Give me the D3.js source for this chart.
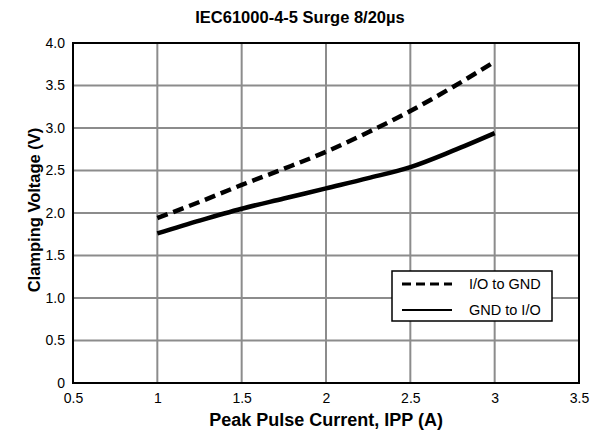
<!DOCTYPE html>
<html>
<head>
<meta charset="utf-8">
<script src="https://cdn.jsdelivr.net/npm/d3@7"></script>
<style>
  body { margin: 0; background: #fff; }
  svg { font-family: "Liberation Sans", Arial, sans-serif; }
  .tick text { font-size: 14px; fill: #000; }
</style>
</head>
<body>
<svg width="597" height="432"></svg>
<script>
// values
const current = [1, 1.25, 1.5, 1.75, 2, 2.25, 2.5, 2.75, 3];
const ioToGnd = [1.94, 2.13, 2.33, 2.52, 2.72, 2.95, 3.20, 3.48, 3.78];
const gndToIo = [1.76, 1.91, 2.05, 2.17, 2.29, 2.41, 2.54, 2.73, 2.94];
const xTicks = [0.5, 1, 1.5, 2, 2.5, 3, 3.5];
const yTicks = [0, 0.5, 1, 1.5, 2, 2.5, 3, 3.5, 4];
const seriesNames = ["I/O to GND", "GND to I/O"];

const svg = d3.select("svg");
const plotL = 73, plotR = 579, plotT = 43, plotB = 383;

const x = d3.scaleLinear().domain([0.5, 3.5]).range([plotL, plotR]);
const y = d3.scaleLinear().domain([0, 4]).range([plotB, plotT]);

// grid
svg.append("g").selectAll("line")
  .data(xTicks.slice(1, -1))
  .enter().append("line")
  .attr("x1", d => x(d)).attr("x2", d => x(d))
  .attr("y1", plotT).attr("y2", plotB)
  .attr("stroke", "#8c8c8c").attr("stroke-width", 2);

svg.append("g").selectAll("line")
  .data(yTicks.slice(1, -1))
  .enter().append("line")
  .attr("x1", plotL).attr("x2", plotR)
  .attr("y1", d => y(d)).attr("y2", d => y(d))
  .attr("stroke", "#8c8c8c").attr("stroke-width", 2);

// axes
svg.append("g")
  .attr("transform", `translate(0,${plotB})`)
  .call(d3.axisBottom(x).tickValues(xTicks).tickSize(0).tickPadding(10).tickFormat(d => d))
  .call(g => g.select(".domain").remove());

svg.append("g")
  .attr("transform", `translate(${plotL},0)`)
  .call(d3.axisLeft(y).tickValues(yTicks).tickSize(0).tickPadding(8)
    .tickFormat(d => d === 0 ? "0" : d3.format(".1f")(d)))
  .call(g => g.select(".domain").remove());

// frame
svg.append("rect")
  .attr("x", plotL).attr("y", plotT)
  .attr("width", plotR - plotL).attr("height", plotB - plotT)
  .attr("fill", "none").attr("stroke", "#000").attr("stroke-width", 2);

// lines
const line = d3.line()
  .x((d, i) => x(current[i]))
  .y(d => y(d))
  .curve(d3.curveMonotoneX);

svg.append("path")
  .datum(ioToGnd)
  .attr("d", line)
  .attr("fill", "none").attr("stroke", "#000")
  .attr("stroke-width", 4.5).attr("stroke-dasharray", "11,6");

svg.append("path")
  .datum(gndToIo)
  .attr("d", line)
  .attr("fill", "none").attr("stroke", "#000")
  .attr("stroke-width", 4.5);

// legend
const legend = svg.append("g");
legend.append("rect")
  .attr("x", 392).attr("y", 271).attr("width", 160).attr("height", 50)
  .attr("fill", "#fff").attr("stroke", "#000").attr("stroke-width", 1.5);

seriesNames.forEach((name, i) => {
  const ly = 284 + i * 26;
  legend.append("line")
    .attr("x1", 402).attr("x2", 452).attr("y1", ly).attr("y2", ly)
    .attr("stroke", "#000").attr("stroke-width", i === 0 ? 3 : 2)
    .attr("stroke-dasharray", i === 0 ? "9,5" : null);
  legend.append("text")
    .attr("x", 469).attr("y", ly + 5)
    .attr("font-size", 14.5)
    .text(name);
});

// titles
svg.append("text")
  .attr("x", 300).attr("y", 23)
  .attr("text-anchor", "middle")
  .attr("font-size", 16.5).attr("font-weight", "bold")
  .text("IEC61000-4-5 Surge 8/20µs");

svg.append("text")
  .attr("x", 326).attr("y", 426)
  .attr("text-anchor", "middle")
  .attr("font-size", 18).attr("font-weight", "bold")
  .text("Peak Pulse Current, IPP (A)");

svg.append("text")
  .attr("transform", "translate(40,210) rotate(-90)")
  .attr("text-anchor", "middle")
  .attr("font-size", 16.5).attr("font-weight", "bold")
  .text("Clamping Voltage (V)");
</script>
</body>
</html>
